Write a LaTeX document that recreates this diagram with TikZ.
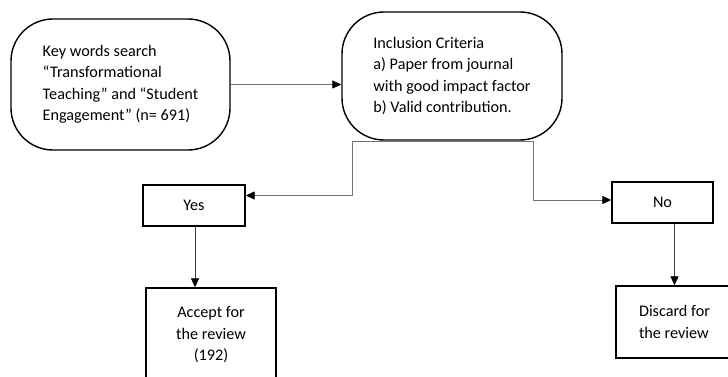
\documentclass[tikz,border=0pt]{standalone}
\usepackage{fontspec}
\setmainfont{Carlito}
\usetikzlibrary{arrows.meta,calc}

\begin{document}
\begin{tikzpicture}[x=1pt,y=-1pt,
      >={Triangle[length=9pt,width=8pt,color=black]},
      font=\fontsize{16.2}{21.5}\selectfont,
      flow/.style={->,draw=black!55,line width=0.8pt},
      roundbox/.style={draw,line width=1.4pt,rounded corners=42pt,
        inner sep=0pt,align=left},
      box/.style={draw,line width=1.4pt,inner sep=0pt,align=center}]
      \clip (0,0) rectangle (728,377);

      \node[roundbox,minimum width=219pt,minimum height=131pt]
        (search) at (120.5,84.5) {
          Key words search\\
          “Transformational\\
          Teaching” and “Student\hspace*{6pt}\\
          Engagement” (n= 691)};
      \node[roundbox,minimum width=220pt,minimum height=128pt]
        (criteria) at (452,76) {
          Inclusion Criteria\\
          a) Paper from journal\\
          with good impact factor\hspace*{6pt}\\
          b) Valid contribution.};

      \node[box,minimum width=102pt,minimum height=41pt] (yes) at (194,205.5) {Yes};
      \node[box,minimum width=101pt,minimum height=41pt] (no) at (662.5,202.5) {No};
      \node[box,minimum width=130pt,minimum height=94pt] (accept) at (211,335) {
        Accept for\\ the review\\ (192)};
      \node[box,minimum width=117pt,minimum height=72pt,align=left]
        (discard) at (674.5,322) {Discard for\\ the review};

      \coordinate (splitL) at (352,141);
      \coordinate (splitR) at (533,141);

      \draw[flow] (search.east) -- (search.east -| criteria.west);
      \draw[draw=black!55,line width=0.8pt] (splitL) -- (splitR);
      \draw[flow] (splitL) |- ([yshift=10pt]yes.east);
      \draw[flow] (splitR) |- ([yshift=2.5pt]no.west);
      \draw[flow,draw=black!75] (yes.south -| 195,0) -- (accept.north -| 195,0);
      \draw[flow,draw=black!75] (discard.north |- no.south) -- (discard.north);
\end{tikzpicture}
\end{document}
